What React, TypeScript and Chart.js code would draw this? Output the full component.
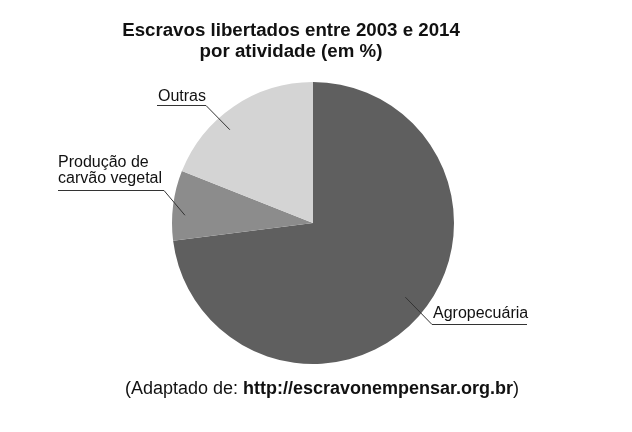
import React, { useEffect, useRef } from 'react';
import Chart, { ChartConfiguration, Plugin } from 'chart.js/auto';

const categories = ['Agropecuária', 'Produção de carvão vegetal', 'Outras'];
const shares = [73, 8, 19];
const sliceColors = ['#5f5f5f', '#8c8c8c', '#d4d4d4'];
const labelLines = [['Agropecuária'], ['Produção de', 'carvão vegetal'], ['Outras']];
const titleLines = ['Escravos libertados entre 2003 e 2014', 'por atividade (em %)'];
const sourcePrefix = '(Adaptado de: ';
const sourceUrl = 'http://escravonempensar.org.br';
const sourceSuffix = ')';

const FONT = '"Liberation Sans", Arial, sans-serif';

// where each label sits and where its leader line enters the slice
const labelLayout = [
    { x: 433, baseline: 318, lineY: 324, x0: 432, x1: 527, elbow: 432, frac: 0.49, depth: 0.84 },
    { x: 58, baseline: 183, lineY: 190, x0: 58, x1: 164, elbow: 164, frac: 0.37, depth: 0.91 },
    { x: 158, baseline: 101, lineY: 105, x0: 157, x1: 206, elbow: 206, frac: 0.39, depth: 0.886 },
];

const annotations: Plugin<'pie'> = {
    id: 'annotations',
    afterDraw(chart) {
        const ctx = chart.ctx;
        const meta = chart.getDatasetMeta(0);
        ctx.save();

        // title
        ctx.fillStyle = '#111';
        ctx.textAlign = 'center';
        ctx.textBaseline = 'alphabetic';
        ctx.font = `bold 18.7px ${FONT}`;
        ctx.fillText(titleLines[0], 291, 36);
        ctx.fillText(titleLines[1], 291, 57);

        // slice labels with leader lines
        ctx.textAlign = 'left';
        ctx.font = `16px ${FONT}`;
        meta.data.forEach((el, i) => {
            const lay = labelLayout[i];
            const p = (el as any).getProps(['x', 'y', 'startAngle', 'endAngle', 'outerRadius'], true);
            const a = p.startAngle + (p.endAngle - p.startAngle) * lay.frac;
            const px = p.x + Math.cos(a) * p.outerRadius * lay.depth;
            const py = p.y + Math.sin(a) * p.outerRadius * lay.depth;

            ctx.strokeStyle = '#333';
            ctx.lineWidth = 1;
            ctx.beginPath();
            ctx.moveTo(lay.x0 === lay.elbow ? lay.x1 : lay.x0, lay.lineY + 0.5);
            ctx.lineTo(lay.elbow, lay.lineY + 0.5);
            ctx.lineTo(px, py);
            ctx.stroke();

            ctx.fillStyle = '#111';
            const lines = labelLines[i];
            lines.forEach((t, j) => {
                ctx.fillText(t, lay.x, lay.baseline - (lines.length - 1 - j) * 16.5);
            });
        });

        // source line
        ctx.font = `18px ${FONT}`;
        const w1 = ctx.measureText(sourcePrefix).width;
        const w3 = ctx.measureText(sourceSuffix).width;
        ctx.font = `bold 18px ${FONT}`;
        const w2 = ctx.measureText(sourceUrl).width;
        let x = 322 - (w1 + w2 + w3) / 2;
        ctx.font = `18px ${FONT}`;
        ctx.fillText(sourcePrefix, x, 394);
        x += w1;
        ctx.font = `bold 18px ${FONT}`;
        ctx.fillText(sourceUrl, x, 394);
        x += w2;
        ctx.font = `18px ${FONT}`;
        ctx.fillText(sourceSuffix, x, 394);

        ctx.restore();
    },
};

const App: React.FC = () => {
    const chartRef = useRef<HTMLCanvasElement | null>(null);

    useEffect(() => {
        const chartConfig: ChartConfiguration<'pie'> = {
            type: 'pie',
            data: {
                labels: categories,
                datasets: [
                    {
                        data: shares,
                        backgroundColor: sliceColors,
                        borderWidth: 0,
                    },
                ],
            },
            options: {
                animation: false,
                responsive: true,
                maintainAspectRatio: false,
                layout: {
                    padding: { top: 82, bottom: 68, left: 172, right: 178 },
                },
                plugins: {
                    legend: { display: false },
                    tooltip: { enabled: false },
                },
            },
            plugins: [annotations],
        };

        if (chartRef.current) {
            const chartInstance = new Chart(chartRef.current, chartConfig);
            return () => {
                chartInstance.destroy();
            };
        }
    }, []);

    return (
        <div style={{ position: 'fixed', left: 0, top: 0, width: 632, height: 432, background: '#fff' }}>
            <canvas ref={chartRef} />
        </div>
    );
};

export default App;
